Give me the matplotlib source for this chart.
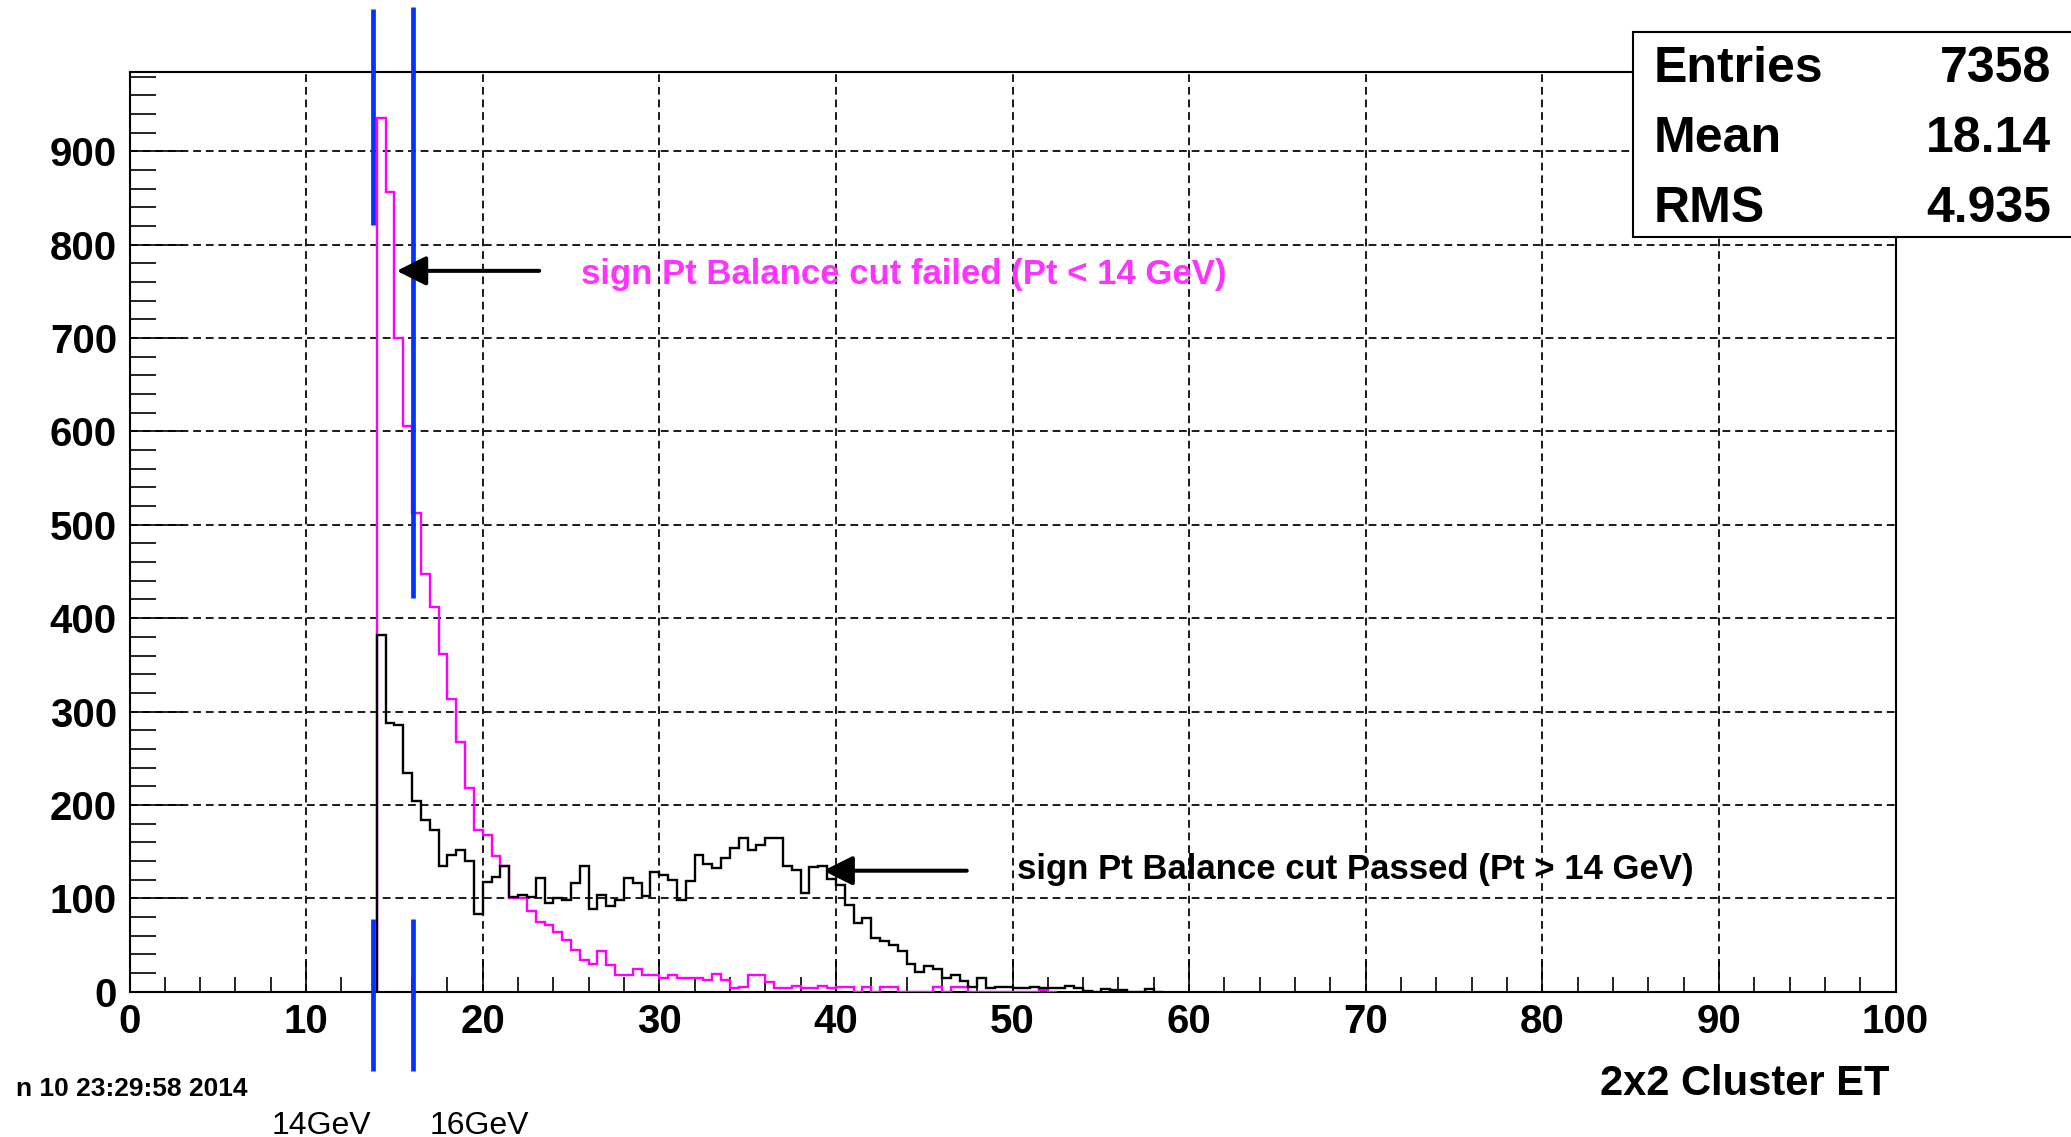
import matplotlib
matplotlib.use("Agg")
import matplotlib.pyplot as plt
from matplotlib.patches import Rectangle
from matplotlib.ticker import MultipleLocator, FixedLocator

plt.rcParams['font.family'] = ['Liberation Sans', 'DejaVu Sans']

# ---------------- data ----------------
bin_start = 14.0
bin_width = 0.5

# "sign Pt Balance cut Passed" (black)
passed_counts = [382, 288, 286, 234, 204, 184, 173, 134, 146, 152,
                 140, 83, 117, 123, 134, 101, 104, 101, 122, 95,
                 100, 98, 116, 134, 88, 104, 92, 98, 122, 116,
                 102, 128, 125, 120, 98, 119, 146, 137, 132, 143,
                 154, 164, 152, 157, 164, 164, 134, 130, 106, 133,
                 134, 121, 114, 93, 73, 79, 57, 54, 50, 43,
                 30, 21, 27, 24, 15, 18, 11, 5, 15, 4,
                 5, 5, 4, 4, 5, 4, 4, 4, 6, 4,
                 1, 0, 3, 2, 2, 0, 0, 3, 0]

# "sign Pt Balance cut failed" (magenta)
failed_counts = [936, 857, 700, 606, 513, 447, 412, 362, 313, 267,
                 218, 173, 168, 145, 134, 100, 100, 86, 75, 71,
                 64, 55, 45, 34, 30, 43, 28, 18, 18, 24,
                 18, 18, 15, 18, 15, 15, 15, 12, 19, 12,
                 4, 5, 18, 18, 10, 4, 4, 6, 4, 4,
                 6, 4, 5, 5, 0, 5, 0, 5, 5, 0,
                 0, 0, 0, 5, 0, 5, 5, 0, 0, 0,
                 0, 0, 0, 0, 0, 2, 0]

x_ticks = [0, 10, 20, 30, 40, 50, 60, 70, 80, 90, 100]
y_ticks = [0, 100, 200, 300, 400, 500, 600, 700, 800, 900]

stats_labels = ["Entries", "Mean", "RMS"]
stats_values = ["7358", "18.14", "4.935"]

cut_lines_gev = [13.8, 16.07]
cut_labels = ["14GeV", "16GeV"]

# ---------------- figure ----------------
W, H = 2071, 1137
fig = plt.figure(figsize=(W / 100, H / 100), dpi=100)
ax = fig.add_axes([129.5 / W, 1 - 991.6 / H, (1895.5 - 129.5) / W, (991.6 - 72) / H])

ax.set_xlim(0, 100)
ax.set_ylim(0, 985)

edges_p = [bin_start + i * bin_width for i in range(len(passed_counts) + 1)]
edges_f = [bin_start + i * bin_width for i in range(len(failed_counts) + 1)]

ax.stairs(failed_counts, edges_f, baseline=0, color='#ff00ff', lw=1.7, zorder=3)
ax.stairs(passed_counts, edges_p, baseline=0, color='black', lw=1.7, zorder=4)

# ticks
ax.xaxis.set_major_locator(FixedLocator(x_ticks))
ax.yaxis.set_major_locator(FixedLocator(y_ticks))
ax.xaxis.set_minor_locator(MultipleLocator(2))
ax.yaxis.set_minor_locator(MultipleLocator(20))
ax.tick_params(axis='both', which='both', direction='in', top=False, right=False, width=1.2)
ax.tick_params(axis='y', which='major', length=38, pad=9, labelsize=29)
ax.tick_params(axis='y', which='minor', length=19)
ax.tick_params(axis='x', which='major', length=22, pad=8, labelsize=29)
ax.tick_params(axis='x', which='minor', length=11)
for lab in ax.get_xticklabels() + ax.get_yticklabels():
    lab.set_fontweight('bold')

ax.grid(True, which='major', color='#1a1a1a', lw=1.4, linestyle=(0, (4, 2.5)))
ax.set_axisbelow(True)
for sp in ax.spines.values():
    sp.set_linewidth(1.5)

# cut lines (blue)
for xv, (y0, y1) in zip(cut_lines_gev, [(821, 1052), (422, 1055)]):
    ax.plot([xv, xv], [y0, y1], color='#0033ff', lw=3.4, clip_on=False, zorder=6,
            solid_capstyle='butt')
    ax.plot([xv, xv], [-85, 77.5], color='#0033ff', lw=3.4, clip_on=False, zorder=6,
            solid_capstyle='butt')

# annotations
ax.annotate('', xy=(15.13, 772), xytext=(23.2, 772),
            arrowprops=dict(arrowstyle='-|>,head_length=0.9,head_width=0.45',
                            color='black', lw=2.9, mutation_scale=20,
                            shrinkA=0, shrinkB=0), zorder=7)
ax.text(25.57, 768, "sign Pt Balance cut failed (Pt < 14 GeV)", color='#ff33ff',
        fontsize=25, fontweight='bold', va='center', ha='left', zorder=7)

ax.annotate('', xy=(39.29, 129.5), xytext=(47.41, 129.5),
            arrowprops=dict(arrowstyle='-|>,head_length=0.9,head_width=0.45',
                            color='black', lw=2.9, mutation_scale=20,
                            shrinkA=0, shrinkB=0), zorder=7)
ax.text(50.25, 131, "sign Pt Balance cut Passed (Pt > 14 GeV)", color='black',
        fontsize=25, fontweight='bold', va='center', ha='left', zorder=7)

# x label
fig.text(1890 / W, 1 - 1084 / H, "2x2 Cluster ET", fontsize=30, fontweight='bold',
         ha='right', va='center')

# date stamp
fig.text(16 / W, 1 - 1089 / H, "n 10 23:29:58 2014", fontsize=19, fontweight='bold',
         ha='left', va='center')

# cut labels
for xc, lab in zip([321, 479], cut_labels):
    fig.text(xc / W, 1 - 1126 / H, lab, fontsize=23, ha='center', va='center')

# stats box
box = Rectangle((1633 / W, 1 - 236.7 / H), (2080 - 1633) / W, (236.7 - 31.7) / H,
                transform=fig.transFigure, facecolor='white', edgecolor='black',
                lw=1.5, zorder=10, clip_on=False)
fig.patches.append(box)
for yc, lab, val in zip([69, 139, 209], stats_labels, stats_values):
    fig.text(1654 / W, 1 - yc / H, lab, fontsize=36, fontweight='bold',
             ha='left', va='center', zorder=11)
    fig.text(2051 / W, 1 - yc / H, val, fontsize=36, fontweight='bold',
             ha='right', va='center', zorder=11)

fig.savefig("out.png", dpi=100, facecolor='white')
